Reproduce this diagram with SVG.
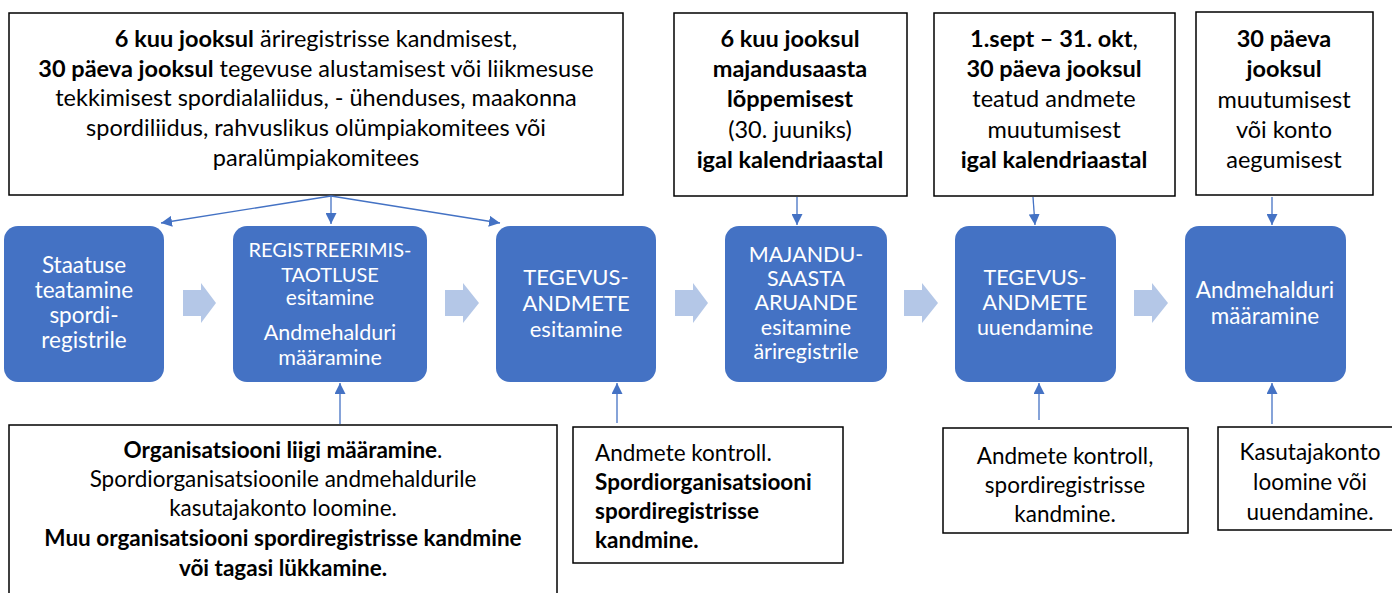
<svg xmlns="http://www.w3.org/2000/svg" width="1392" height="593" viewBox="0 0 1392 593">
<defs>
<marker id="ah" viewBox="0 0 10 10" refX="10" refY="5" markerWidth="11" markerHeight="11" markerUnits="userSpaceOnUse" orient="auto">
<path d="M0,0 L10,5 L0,10 z" fill="#4472C4"/>
</marker>
<style>
.box{fill:#fff;stroke:#000;stroke-width:1.5}
.blue{fill:#4472C4}
.blk{fill:#B4C7E7}
.t{font-family:Lato,"Open Sans",sans-serif;font-size:23.5px;fill:#000;text-anchor:middle}
.s{font-size:22.5px}
.w{font-family:Lato,"Open Sans",sans-serif;font-size:22px;fill:#fff;text-anchor:middle}
.b{font-weight:bold}
.l{text-anchor:start}
.c{stroke:#4472C4;stroke-width:1.3;fill:none;marker-end:url(#ah)}
</style>
</defs>

<g id="top1">
<rect class="box" x="9" y="13" width="614" height="182"/>
<text class="t" x="316" y="47"><tspan class="b">6 kuu jooksul</tspan> äriregistrisse kandmisest,</text>
<text class="t" x="316" y="77"><tspan class="b">30 päeva jooksul</tspan> tegevuse alustamisest või liikmesuse</text>
<text class="t" x="316" y="106">tekkimisest spordialaliidus, - ühenduses, maakonna</text>
<text class="t" x="316" y="136">spordiliidus, rahvuslikus olümpiakomitees või</text>
<text class="t" x="316" y="166">paralümpiakomitees</text>
</g>

<g id="top2">
<rect class="box" x="674" y="13" width="233" height="183"/>
<text class="t b" x="790" y="47">6 kuu jooksul</text>
<text class="t b" x="790" y="77">majandusaasta</text>
<text class="t b" x="790" y="107">lõppemisest</text>
<text class="t" x="790" y="138">(30. juuniks)</text>
<text class="t b" x="790" y="168">igal kalendriaastal</text>
</g>

<g id="top3">
<rect class="box" x="934" y="13" width="241" height="183"/>
<text class="t" x="1054" y="47"><tspan class="b">1.sept – 31. okt</tspan>,</text>
<text class="t b" x="1054" y="77">30 päeva jooksul</text>
<text class="t" x="1054" y="107">teatud andmete</text>
<text class="t" x="1054" y="138">muutumisest</text>
<text class="t b" x="1054" y="168">igal kalendriaastal</text>
</g>

<g id="top4">
<rect class="box" x="1196" y="12" width="177" height="183"/>
<text class="t b" x="1284" y="47">30 päeva</text>
<text class="t b" x="1284" y="77">jooksul</text>
<text class="t" x="1284" y="108">muutumisest</text>
<text class="t" x="1284" y="138">või konto</text>
<text class="t" x="1284" y="168">aegumisest</text>
</g>

<g id="s1">
<rect class="blue" x="4" y="226" width="160" height="156" rx="14"/>
<text class="w" x="84" y="273" style="font-size:22.5px">Staatuse</text>
<text class="w" x="84" y="298" style="font-size:22.5px">teatamine</text>
<text class="w" x="84" y="323" style="font-size:22.5px">spordi-</text>
<text class="w" x="84" y="348" style="font-size:22.5px">registrile</text>
</g>

<g id="s2">
<rect class="blue" x="233" y="226" width="194" height="156" rx="14"/>
<text class="w" x="330" y="257" style="font-size:20px">REGISTREERIMIS-</text>
<text class="w" x="330" y="282" style="font-size:20px">TAOTLUSE</text>
<text class="w" x="330" y="305" style="font-size:21px">esitamine</text>
<text class="w" x="330" y="340" style="font-size:21.5px">Andmehalduri</text>
<text class="w" x="330" y="365" style="font-size:21.5px">määramine</text>
</g>

<g id="s3">
<rect class="blue" x="496" y="226" width="160" height="156" rx="14"/>
<text class="w" x="576" y="285">TEGEVUS-</text>
<text class="w" x="576" y="311">ANDMETE</text>
<text class="w" x="576" y="337">esitamine</text>
</g>

<g id="s4">
<rect class="blue" x="725" y="226" width="162" height="156" rx="14"/>
<text class="w" x="806" y="262" style="font-size:21.5px">MAJANDU-</text>
<text class="w" x="806" y="286" style="font-size:21.5px">SAASTA</text>
<text class="w" x="806" y="310" style="font-size:21.5px">ARUANDE</text>
<text class="w" x="806" y="335" style="font-size:21.5px">esitamine</text>
<text class="w" x="806" y="359" style="font-size:21.5px">äriregistrile</text>
</g>

<g id="s5">
<rect class="blue" x="955" y="226" width="161" height="156" rx="14"/>
<text class="w" x="1035" y="285" style="font-size:21.5px">TEGEVUS-</text>
<text class="w" x="1035" y="310" style="font-size:21.5px">ANDMETE</text>
<text class="w" x="1035" y="335" style="font-size:21.5px">uuendamine</text>
</g>

<g id="s6">
<rect class="blue" x="1185" y="226" width="161" height="156" rx="14"/>
<text class="w" x="1265" y="298" style="font-size:22.5px">Andmehalduri</text>
<text class="w" x="1265" y="324" style="font-size:22.5px">määramine</text>
</g>

<g id="bot1">
<rect class="box" x="9" y="425" width="548" height="180"/>
<text class="t s" x="283" y="458"><tspan class="b">Organisatsiooni liigi määramine</tspan>.</text>
<text class="t s" x="283" y="487">Spordiorganisatsioonile andmehaldurile</text>
<text class="t s" x="283" y="516">kasutajakonto loomine.</text>
<text class="t s b" x="283" y="546">Muu organisatsiooni spordiregistrisse kandmine</text>
<text class="t s b" x="283" y="576">või tagasi lükkamine.</text>
</g>

<g id="bot2">
<rect class="box" x="573" y="427" width="270" height="136"/>
<text class="t s l" x="595" y="461">Andmete kontroll.</text>
<text class="t s l b" x="595" y="490">Spordiorganisatsiooni</text>
<text class="t s l b" x="595" y="519">spordiregistrisse</text>
<text class="t s l b" x="595" y="548">kandmine.</text>
</g>

<g id="bot3">
<rect class="box" x="943" y="428" width="245" height="105"/>
<text class="t s" x="1065" y="464">Andmete kontroll,</text>
<text class="t s" x="1065" y="493">spordiregistrisse</text>
<text class="t s" x="1065" y="522">kandmine.</text>
</g>

<g id="bot4">
<rect class="box" x="1218" y="427" width="190" height="103"/>
<text class="t s" x="1310" y="460">Kasutajakonto</text>
<text class="t s" x="1310" y="490">loomine või</text>
<text class="t s" x="1310" y="520">uuendamine.</text>
</g>

<g id="flow">
<path class="blk" d="M183,290 H201 V283 L216,303 L201,323 V316 H183 z"/>
<path class="blk" d="M445,290 H463 V283 L479,303 L463,323 V316 H445 z"/>
<path class="blk" d="M675,290 H693 V283 L708,303 L693,323 V316 H675 z"/>
<path class="blk" d="M904,290 H922 V283 L938,303 L922,323 V316 H904 z"/>
<path class="blk" d="M1134,290 H1152 V283 L1168,303 L1152,323 V316 H1134 z"/>
</g>

<g id="connectors">
<line class="c" x1="331" y1="196" x2="161" y2="223"/>
<line class="c" x1="331" y1="196" x2="331" y2="224"/>
<line class="c" x1="331" y1="196" x2="500" y2="223"/>
<line class="c" x1="797" y1="197" x2="797" y2="225"/>
<line class="c" x1="1033" y1="197" x2="1035" y2="225"/>
<line class="c" x1="1272" y1="197" x2="1272" y2="225"/>
<line class="c" x1="340" y1="424" x2="340" y2="383"/>
<line class="c" x1="617" y1="423" x2="617" y2="383"/>
<line class="c" x1="1039" y1="420" x2="1039" y2="383"/>
<line class="c" x1="1272" y1="424" x2="1272" y2="383"/>
</g>
</svg>
